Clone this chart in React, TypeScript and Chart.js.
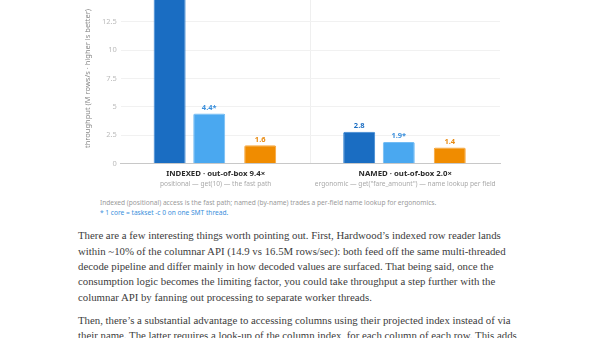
import React, { useEffect, useRef } from "react";
import { Chart, registerables } from "chart.js";

Chart.register(...registerables);

const categories = ["INDEXED · out-of-box 9.4×", "NAMED · out-of-box 2.0×"];
const subtitles = [
  "positional — get(10) — the fast path",
  "ergonomic — get(\"fare_amount\") — name lookup per field",
];
const multiThreaded = [14.9, 2.8];
const singleCore = [4.4, 1.9];
const parquetJava = [1.6, 1.4];
const yTicksMax = 15;
const yStep = 2.5;

const paragraph1 = [
  "There are a few interesting things worth pointing out. First, Hardwood’s indexed row reader lands",
  "within ~10% of the columnar API (14.9 vs 16.5M rows/sec): both feed off the same multi-threaded",
  "decode pipeline and differ mainly in how decoded values are surfaced. That being said, once the",
  "consumption logic becomes the limiting factor, you could take throughput a step further with the",
  "columnar API by fanning out processing to separate worker threads.",
];
const paragraph2 = [
  "Then, there’s a substantial advantage to accessing columns using their projected index instead of via",
  "their name. The latter requires a look-up of the column index, for each column of each row. This adds",
];

const FONT = "'Noto Sans', 'Open Sans', sans-serif";

const labelPlugin = {
  id: "barValueLabels",
  afterDatasetsDraw(chart: any) {
    const ctx = chart.ctx;
    ctx.save();
    ctx.font = `bold 7.5px ${FONT}`;
    ctx.textAlign = "center";
    ctx.textBaseline = "bottom";
    chart.data.datasets.forEach((ds: any, di: number) => {
      if (!ds.labelColor) return;
      const meta = chart.getDatasetMeta(di);
      meta.data.forEach((el: any, i: number) => {
        const v = ds.data[i];
        if (v == null) return;
        ctx.fillStyle = ds.labelColor;
        ctx.fillText(v.toFixed(1) + (ds.suffix || ""), el.x, el.y - 2);
      });
    });
    ctx.restore();
  },
};

const subtitlePlugin = {
  id: "categorySubtitles",
  afterDraw(chart: any) {
    const x = chart.scales.x;
    const ctx = chart.ctx;
    ctx.save();
    ctx.font = `6.6px ${FONT}`;
    ctx.fillStyle = "#aaaaaa";
    ctx.textAlign = "center";
    ctx.textBaseline = "middle";
    subtitles.forEach((s, i) => {
      ctx.fillText(s, x.getPixelForValue(i), x.top + 20.5);
    });
    ctx.restore();
  },
};

export default function App() {
  const ref = useRef<HTMLCanvasElement>(null);
  useEffect(() => {
    if (!ref.current) return;
    Chart.defaults.font.family = FONT;
    const chart = new Chart(ref.current, {
      type: "bar",
      data: {
        labels: categories,
        datasets: [
          {
            label: "Hardwood (multi-threaded)",
            data: multiThreaded,
            backgroundColor: "#1a6dc2",
            borderColor: "#3a86d2",
            borderWidth: 1,
            borderRadius: 1.5,
            categoryPercentage: 0.6475,
            barPercentage: 1.2,
            maxBarThickness: 32,
            labelColor: "#1a6dc2",
          } as any,
          {
            label: "Hardwood (1 core*)",
            data: singleCore,
            backgroundColor: "#4aa8f0",
            borderColor: "#72bcf4",
            borderWidth: 1,
            borderRadius: 1.5,
            categoryPercentage: 0.2715,
            barPercentage: 3,
            maxBarThickness: 32,
            labelColor: "#3a8fdc",
            suffix: "*",
          } as any,
          {
            label: "parquet-java",
            data: parquetJava,
            backgroundColor: "#f08c00",
            borderColor: "#f6a53a",
            borderWidth: 1,
            borderRadius: 1.5,
            categoryPercentage: 1.88,
            barPercentage: 1,
            maxBarThickness: 32,
            labelColor: "#e88a10",
          } as any,
          {
            label: "",
            data: [null, null],
            backgroundColor: "transparent",
          } as any,
        ],
      },
      options: {
        animation: false,
        responsive: false,
        layout: { padding: { top: 3, bottom: 10, left: 1, right: 22 } },
        plugins: {
          legend: { display: false },
          tooltip: { enabled: false },
        },
        scales: {
          x: {
            grid: {
              offset: true,
              drawTicks: false,
              color: (c: any) => (c.index === 1 ? "#efefef" : "transparent"),
            },
            border: { display: true, color: "#c8c8c8", width: 1 },
            ticks: {
              padding: 6.5,
              color: "#2b2b2b",
              font: { size: 7.8, weight: "bold", lineHeight: 1.1 },
              maxRotation: 0,
              minRotation: 0,
              autoSkip: false,
            },
          },
          y: {
            min: 0,
            max: yTicksMax,
            ticks: {
              stepSize: yStep,
              padding: 4,
              color: "#bbbbbb",
              font: { size: 7.5 },
            },
            grid: { color: "#f1f1f1", drawTicks: false },
            border: { display: false },
            title: {
              display: true,
              text: "throughput (M rows/s · higher is better)",
              color: "#888888",
              font: { size: 7.5 },
              padding: { top: 4, bottom: 6 },
            },
          },
        },
      } as any,
      plugins: [labelPlugin, subtitlePlugin],
    });
    return () => chart.destroy();
  }, []);

  return (
    <div>
      <div style={{ position: "absolute", left: 78, top: -15, width: 444, height: 210 }}>
        <canvas ref={ref} width={444} height={210} />
      </div>
      <div
        style={{
          position: "absolute",
          left: 100,
          top: 198.3,
          fontFamily: FONT,
          fontSize: 6.6,
          lineHeight: "9.5px",
          color: "#9a9a9a",
          whiteSpace: "nowrap",
        }}
      >
        <div>Indexed (positional) access is the fast path; named (by-name) trades a per-field name lookup for ergonomics.</div>
        <div style={{ color: "#3a8fdc" }}>* 1 core = taskset -c 0 on one SMT thread.</div>
      </div>
      <div
        style={{
          position: "absolute",
          left: 78,
          top: 228.4,
          fontFamily: "'Liberation Serif', serif",
          fontSize: 10.8,
          lineHeight: "15.3px",
          color: "#3c3c3c",
          whiteSpace: "nowrap",
        }}
      >
        <p style={{ margin: "0 0 7.7px 0" }}>
          {paragraph1.map((l, i) => (
            <React.Fragment key={i}>
              {l}
              {i < paragraph1.length - 1 && <br />}
            </React.Fragment>
          ))}
        </p>
        <p style={{ margin: 0 }}>
          {paragraph2.map((l, i) => (
            <React.Fragment key={i}>
              {l}
              {i < paragraph2.length - 1 && <br />}
            </React.Fragment>
          ))}
        </p>
      </div>
    </div>
  );
}
